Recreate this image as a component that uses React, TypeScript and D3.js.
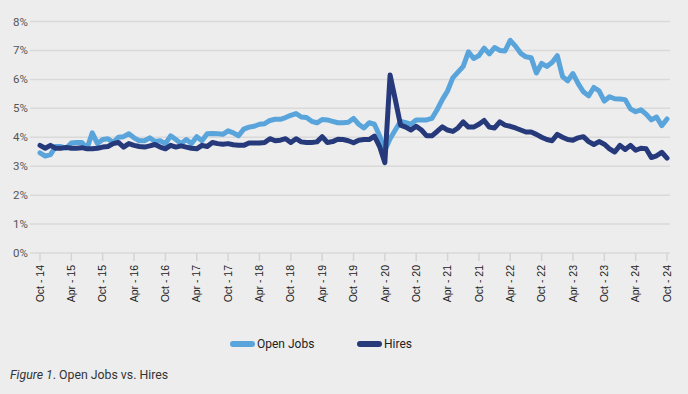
import React from 'react';
import * as d3 from 'd3';

// monthly rates, Oct 2014 .. Oct 2024
const openJobs = [
  3.46, 3.35, 3.4, 3.68, 3.68, 3.62, 3.8, 3.82, 3.82, 3.62, 4.15, 3.78,
  3.92, 3.95, 3.82, 4.0, 4.02, 4.12, 3.98, 3.88, 3.88, 3.98, 3.85, 3.88,
  3.78, 4.05, 3.92, 3.78, 3.92, 3.78, 4.02, 3.88, 4.12, 4.13, 4.12, 4.1,
  4.22, 4.15, 4.05, 4.28, 4.35, 4.38, 4.45, 4.47, 4.58, 4.62, 4.62, 4.68,
  4.76, 4.82, 4.7, 4.68, 4.55, 4.5, 4.61, 4.6, 4.55, 4.5, 4.5, 4.52,
  4.65, 4.45, 4.32, 4.5, 4.45, 4.05, 3.55, 3.95, 4.25, 4.55, 4.5, 4.45,
  4.6, 4.6, 4.6, 4.65, 4.95, 5.3, 5.6, 6.05, 6.25, 6.45, 6.95, 6.72,
  6.82, 7.08, 6.88, 7.1, 7.0, 6.98, 7.35, 7.15, 6.9, 6.78, 6.75, 6.22,
  6.55, 6.45, 6.58, 6.82, 6.1, 5.95, 6.2, 5.85, 5.57, 5.43, 5.72, 5.6,
  5.25, 5.4, 5.33, 5.32, 5.3, 4.98, 4.88, 4.95, 4.8, 4.6, 4.7, 4.4,
  4.63,
];

const hires = [
  3.72, 3.62, 3.72, 3.62, 3.62, 3.65, 3.62, 3.62, 3.64, 3.6, 3.6, 3.62,
  3.66, 3.68, 3.78, 3.82, 3.66, 3.78, 3.72, 3.68, 3.66, 3.7, 3.75, 3.66,
  3.6, 3.72, 3.66, 3.7, 3.66, 3.62, 3.6, 3.72, 3.68, 3.82, 3.78, 3.76,
  3.78, 3.74, 3.72, 3.72, 3.8, 3.8, 3.8, 3.82, 3.95, 3.88, 3.9, 3.95,
  3.82, 3.95, 3.84, 3.82, 3.82, 3.84, 4.02, 3.82, 3.85, 3.93, 3.92, 3.88,
  3.81, 3.9, 3.92, 3.92, 4.04, 3.68, 3.12, 6.15, 5.3, 4.42, 4.35, 4.25,
  4.38, 4.25, 4.05, 4.05, 4.2, 4.36, 4.25, 4.2, 4.32, 4.53, 4.35, 4.35,
  4.45, 4.58, 4.35, 4.32, 4.53, 4.42, 4.38, 4.32, 4.25, 4.18, 4.18, 4.1,
  4.0, 3.92, 3.88, 4.1, 4.0, 3.92, 3.9, 3.98, 4.02, 3.85, 3.75, 3.85,
  3.76, 3.6, 3.49, 3.72, 3.58, 3.72, 3.55, 3.62, 3.6, 3.3, 3.36, 3.48,
  3.28,
];

const tickLabels = [
  'Oct - 14', 'Apr - 15', 'Oct - 15', 'Apr - 16', 'Oct - 16', 'Apr - 17',
  'Oct - 17', 'Apr - 18', 'Oct - 18', 'Apr - 19', 'Oct - 19', 'Apr - 20',
  'Oct - 20', 'Apr - 21', 'Oct - 21', 'Apr - 22', 'Oct - 22', 'Apr - 23',
  'Oct - 23', 'Apr - 24', 'Oct - 24',
];

const yTicks = [0, 1, 2, 3, 4, 5, 6, 7, 8];

const W = 688;
const H = 394;
const LIGHT = '#5aa4dc';
const NAVY = '#263a7b';

export default function App() {
  const x = d3.scaleLinear().domain([0, openJobs.length - 1]).range([40, 667]);
  const y = d3.scaleLinear().domain([0, 8]).range([253, 21.5]);

  const line = d3
    .line<number>()
    .x((d, i) => x(i))
    .y(d => y(d));

  return (
    <svg
      width={W}
      height={H}
      style={{ position: 'absolute', left: 0, top: 0, background: '#ededed' }}
    >
      <rect width={W} height={H} fill="#ededed" />

      {/* grid + y labels */}
      {yTicks.map(t => (
        <g key={t}>
          <line x1={30} x2={670} y1={y(t)} y2={y(t)} stroke="#d9d9d9" strokeWidth={1.5} />
          <text
            x={28}
            y={y(t) + 4}
            textAnchor="end"
            fontFamily="Roboto, sans-serif"
            fontSize={11.5}
            fill="#555"
          >
            {t}%
          </text>
        </g>
      ))}

      {/* x ticks + labels */}
      {tickLabels.map((lab, k) => {
        const xi = x(k * 6);
        return (
          <g key={lab}>
            <line x1={xi} x2={xi} y1={253} y2={261} stroke="#d4d4d4" strokeWidth={1.5} />
            <text
              transform={`translate(${xi},265) rotate(-90)`}
              textAnchor="end"
              dy="0.35em"
              fontFamily="'Liberation Sans', Arial, sans-serif"
              fontSize={10.5}
              fill="#222"
            >
              {lab}
            </text>
          </g>
        );
      })}

      <path
        d={line(openJobs) || ''}
        fill="none"
        stroke={LIGHT}
        strokeWidth={5}
        strokeLinejoin="round"
        strokeLinecap="round"
      />
      <path
        d={line(hires) || ''}
        fill="none"
        stroke={NAVY}
        strokeWidth={5}
        strokeLinejoin="round"
        strokeLinecap="round"
      />

      {/* legend */}
      <g fontFamily="Roboto, sans-serif" fontSize={12} fill="#222">
        <line x1={233} x2={252} y1={344} y2={344} stroke={LIGHT} strokeWidth={6} strokeLinecap="round" />
        <text x={257} y={348}>Open Jobs</text>
        <line x1={360} x2={379} y1={344} y2={344} stroke={NAVY} strokeWidth={6} strokeLinecap="round" />
        <text x={384} y={348}>Hires</text>
      </g>

      <text x={10} y={379} fontFamily="Roboto, sans-serif" fontSize={12.3} fill="#333">
        <tspan fontStyle="italic">Figure 1</tspan>. Open Jobs vs. Hires
      </text>
    </svg>
  );
}
